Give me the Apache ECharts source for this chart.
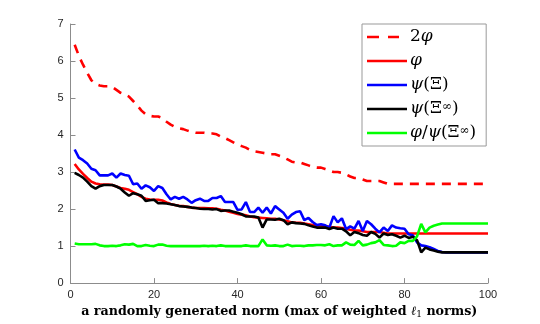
<!DOCTYPE html>
<html>
<head>
<meta charset="utf-8">
<script src="https://cdn.jsdelivr.net/npm/echarts@6/dist/echarts.min.js"></script>
<style>
  html, body { margin: 0; padding: 0; background: #fff; }
  #chart { width: 540px; height: 324px; }
</style>
</head>
<body>
<div id="chart"></div>
<script>
// x positions: trial index 1..100
const xs = Array.from({ length: 100 }, (_, i) => i + 1);
const xTicks = [0, 20, 40, 60, 80, 100];
const yTicks = [0, 1, 2, 3, 4, 5, 6, 7];

const twoPhi = [
    6.44, 6.14, 5.90, 5.68, 5.48, 5.38, 5.34, 5.32, 5.32, 5.30,
    5.22, 5.14, 5.10, 5.04, 4.92, 4.80, 4.66, 4.56, 4.52, 4.50,
    4.50, 4.46, 4.36, 4.28, 4.22, 4.18, 4.16, 4.12, 4.08, 4.06,
    4.06, 4.06, 4.04, 4.04, 4.02, 3.96, 3.92, 3.86, 3.80, 3.74,
    3.70, 3.66, 3.60, 3.56, 3.54, 3.52, 3.50, 3.48, 3.48, 3.44,
    3.40, 3.34, 3.28, 3.26, 3.26, 3.22, 3.18, 3.14, 3.12, 3.12,
    3.08, 3.04, 3.00, 3.00, 2.98, 2.94, 2.88, 2.84, 2.84, 2.80,
    2.76, 2.76, 2.76, 2.76, 2.72, 2.68, 2.68, 2.68, 2.68, 2.68,
    2.68, 2.68, 2.68, 2.68, 2.68, 2.68, 2.68, 2.68, 2.68, 2.68,
    2.68, 2.68, 2.68, 2.68, 2.68, 2.68, 2.68, 2.68, 2.68, 2.68
];
const phi = [
    3.22, 3.07, 2.95, 2.84, 2.74, 2.69, 2.67, 2.66, 2.66, 2.65,
    2.61, 2.57, 2.55, 2.52, 2.46, 2.40, 2.33, 2.28, 2.26, 2.25,
    2.25, 2.23, 2.18, 2.14, 2.11, 2.09, 2.08, 2.06, 2.04, 2.03,
    2.03, 2.03, 2.02, 2.02, 2.01, 1.98, 1.96, 1.93, 1.90, 1.87,
    1.85, 1.83, 1.80, 1.78, 1.77, 1.76, 1.75, 1.74, 1.74, 1.72,
    1.70, 1.67, 1.64, 1.63, 1.63, 1.61, 1.59, 1.57, 1.56, 1.56,
    1.54, 1.52, 1.50, 1.50, 1.49, 1.47, 1.44, 1.42, 1.42, 1.40,
    1.38, 1.38, 1.38, 1.38, 1.36, 1.34, 1.34, 1.34, 1.34, 1.34,
    1.34, 1.34, 1.34, 1.34, 1.34, 1.34, 1.34, 1.34, 1.34, 1.34,
    1.34, 1.34, 1.34, 1.34, 1.34, 1.34, 1.34, 1.34, 1.34, 1.34
];
const psiXi = [
    3.61, 3.39, 3.32, 3.23, 3.09, 3.05, 2.91, 2.91, 2.91, 2.96,
    2.85, 2.96, 2.92, 2.90, 2.67, 2.69, 2.55, 2.64, 2.59, 2.49,
    2.62, 2.57, 2.40, 2.26, 2.33, 2.28, 2.33, 2.26, 2.17, 2.24,
    2.28, 2.22, 2.22, 2.30, 2.30, 2.35, 2.19, 2.19, 2.19, 1.98,
    1.99, 2.19, 1.92, 1.92, 2.04, 1.90, 2.04, 1.88, 2.08, 1.99,
    1.90, 1.74, 1.85, 1.92, 1.94, 1.70, 1.76, 1.65, 1.57, 1.59,
    1.56, 1.50, 1.81, 1.64, 1.75, 1.46, 1.53, 1.47, 1.68, 1.41,
    1.68, 1.59, 1.47, 1.37, 1.50, 1.41, 1.56, 1.50, 1.48, 1.47,
    1.32, 1.29, 1.10, 1.02, 1.00, 0.97, 0.92, 0.87, 0.84, 0.83,
    0.83, 0.83, 0.83, 0.83, 0.83, 0.83, 0.83, 0.83, 0.83, 0.83
];
const psiXiInf = [
    2.98, 2.92, 2.85, 2.74, 2.62, 2.55, 2.62, 2.65, 2.65, 2.65,
    2.61, 2.55, 2.45, 2.36, 2.43, 2.40, 2.36, 2.22, 2.24, 2.25,
    2.16, 2.16, 2.15, 2.13, 2.11, 2.08, 2.07, 2.06, 2.04, 2.03,
    2.01, 2.00, 2.00, 1.99, 2.00, 1.95, 1.96, 1.96, 1.93, 1.90,
    1.86, 1.80, 1.80, 1.80, 1.77, 1.50, 1.72, 1.72, 1.71, 1.74,
    1.70, 1.59, 1.64, 1.62, 1.61, 1.60, 1.56, 1.53, 1.50, 1.50,
    1.50, 1.46, 1.50, 1.47, 1.47, 1.40, 1.29, 1.38, 1.35, 1.30,
    1.28, 1.38, 1.33, 1.23, 1.34, 1.30, 1.32, 1.28, 1.23, 1.28,
    1.22, 1.25, 1.16, 0.83, 0.96, 0.91, 0.88, 0.85, 0.83, 0.83,
    0.83, 0.83, 0.83, 0.83, 0.83, 0.83, 0.83, 0.83, 0.83, 0.83
];
const ratio = [
    1.07, 1.05, 1.05, 1.05, 1.05, 1.06, 1.02, 1.00, 1.00, 1.01,
    1.00, 1.02, 1.05, 1.04, 1.06, 1.00, 1.00, 1.03, 1.01, 1.00,
    1.04, 1.04, 1.01, 1.00, 1.00, 1.00, 1.00, 1.00, 1.00, 1.00,
    1.00, 1.01, 1.00, 1.01, 1.00, 1.02, 1.00, 1.00, 1.00, 1.00,
    1.00, 1.02, 1.00, 1.00, 1.00, 1.18, 1.02, 1.01, 1.02, 1.00,
    1.00, 1.04, 1.00, 1.01, 1.01, 1.00, 1.02, 1.02, 1.03, 1.03,
    1.02, 1.05, 1.00, 1.02, 1.02, 1.10, 1.04, 1.03, 1.14, 1.02,
    1.04, 1.08, 1.10, 1.16, 1.03, 1.02, 1.00, 1.01, 1.10, 1.08,
    1.14, 1.14, 1.26, 1.60, 1.37, 1.50, 1.55, 1.58, 1.61, 1.61,
    1.61, 1.61, 1.61, 1.61, 1.61, 1.61, 1.61, 1.61, 1.61, 1.61
];

const seriesNames = ['2φ', 'φ', 'ψ(Ξ)', 'ψ(Ξ∞)', 'φ/ψ(Ξ∞)'];
const legendLabels = {
    '2φ': '{n|2}{i|φ}',
    'φ': '{i|φ}',
    'ψ(Ξ)': '{i|ψ}{n|(Ξ)}',
    'ψ(Ξ∞)': '{i|ψ}{n|(Ξ}{sup|∞}{n|)}',
    'φ/ψ(Ξ∞)': '{i|φ}{n|/}{i|ψ}{n|(Ξ}{sup|∞}{n|)}'
};

// legend glyphs: a thin bar inside a 40x20 box (tiny corner dots fix the box)
const solidIcon = 'path://M0,0h0.01v0.01h-0.01Z M40,20h-0.01v-0.01h0.01Z M0,8.7h40v2.6h-40Z';
const dashIcon = 'path://M0,0h0.01v0.01h-0.01Z M40,20h-0.01v-0.01h0.01Z M0,8.7h12v2.6h-12Z M21,8.7h11v2.6h-11Z';

function pairs(values) {
    return xs.map((x, i) => [x, values[i]]);
}

function lineSeries(name, values, color, dashed) {
    return {
        name: name,
        type: 'line',
        symbol: 'none',
        lineStyle: {
            width: 2.6,
            color: color,
            type: dashed ? [9, 7] : 'solid'
        },
        itemStyle: { color: color },
        data: pairs(values)
    };
}

const chart = echarts.init(document.getElementById('chart'));
const option = {
    animation: false,
    backgroundColor: '#fff',
    grid: {
        left: 70.5,
        right: 52,
        top: 24,
        bottom: 40
    },
    legend: {
        data: seriesNames.map((n, i) => ({ name: n, icon: i === 0 ? dashIcon : solidIcon })),
        orient: 'vertical',
        left: 362,
        top: 24,
        padding: [3, 10, 3, 5],
        itemWidth: 40,
        itemHeight: 20,
        itemGap: 4,
        backgroundColor: '#fff',
        borderColor: '#999',
        borderWidth: 1,
        formatter: function (name) {
            return legendLabels[name];
        },
        textStyle: {
            color: '#000',
            padding: [0, 0, 0, -2],
            rich: {
                n: { fontFamily: 'DejaVu Serif', fontSize: 17, color: '#000' },
                i: { fontFamily: 'DejaVu Serif', fontStyle: 'italic', fontSize: 17, color: '#000' },
                sup: { fontFamily: 'DejaVu Serif', fontSize: 12, lineHeight: 9, verticalAlign: 'top', color: '#000' }
            }
        }
    },
    xAxis: {
        type: 'value',
        min: xTicks[0],
        max: xTicks[xTicks.length - 1],
        interval: 20,
        name: '{b|a randomly generated norm (max of weighted }{l|ℓ}{s|1}{b| norms)}',
        nameLocation: 'middle',
        nameGap: 20,
        nameTextStyle: {
            rich: {
                b: { fontFamily: 'DejaVu Serif', fontWeight: 'bold', fontSize: 12.7, color: '#000' },
                l: { fontFamily: 'DejaVu Serif', fontStyle: 'italic', fontSize: 12.7, color: '#000' },
                s: { fontFamily: 'DejaVu Serif', fontSize: 9, color: '#000', padding: [6, 0, 0, 0] }
            }
        },
        axisLine: { lineStyle: { color: '#8c8c8c', width: 1 } },
        axisTick: { inside: true, length: 5, lineStyle: { color: '#8c8c8c' } },
        axisLabel: {
            color: '#262626',
            fontFamily: 'Liberation Sans',
            fontSize: 11,
            margin: 6
        },
        splitLine: { show: false }
    },
    yAxis: {
        type: 'value',
        min: yTicks[0],
        max: yTicks[yTicks.length - 1],
        interval: 1,
        axisLine: { show: true, lineStyle: { color: '#8c8c8c', width: 1 } },
        axisTick: { show: true, inside: true, length: 5, lineStyle: { color: '#8c8c8c' } },
        axisLabel: {
            color: '#262626',
            fontFamily: 'Liberation Sans',
            fontSize: 11,
            margin: 7
        },
        splitLine: { show: false }
    },
    series: [
        lineSeries('2φ', twoPhi, '#ff0000', true),
        lineSeries('φ', phi, '#ff0000', false),
        lineSeries('ψ(Ξ)', psiXi, '#0000ff', false),
        lineSeries('ψ(Ξ∞)', psiXiInf, '#000000', false),
        lineSeries('φ/ψ(Ξ∞)', ratio, '#00ff00', false)
    ]
};
chart.setOption(option);
</script>
</body>
</html>
